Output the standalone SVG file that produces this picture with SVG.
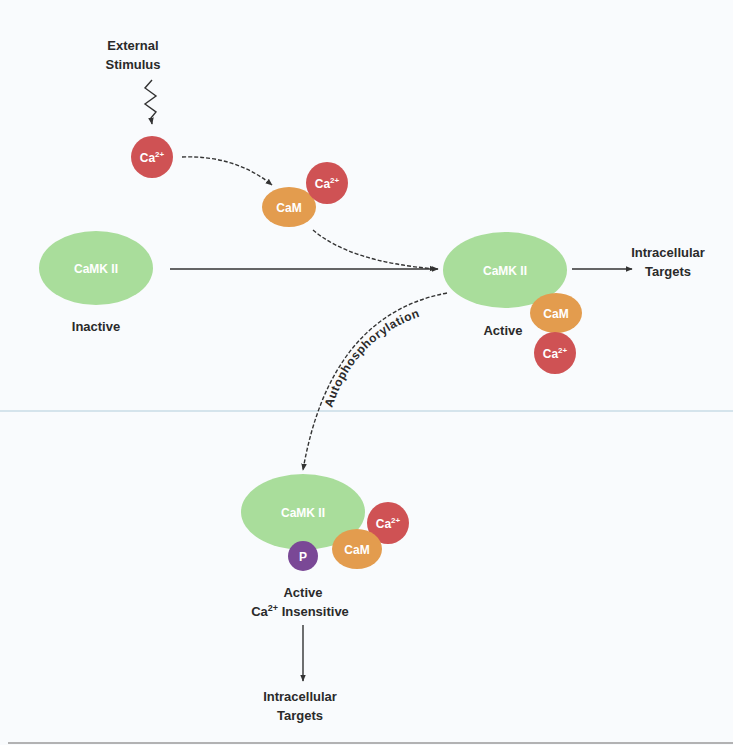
<svg xmlns="http://www.w3.org/2000/svg" width="733" height="745" viewBox="0 0 733 745">
<defs>
<marker id="ah" viewBox="0 0 10 10" refX="9" refY="5" markerWidth="7" markerHeight="7" orient="auto" markerUnits="userSpaceOnUse"><path d="M0,1 L10,5 L0,9 z" fill="#333"/></marker>
<path id="autoPath" d="M331,412 Q356,325 450,309"/>
</defs>
<style>
.lbl{font-family:"Liberation Sans",Arial,sans-serif;font-weight:bold;font-size:13px;fill:#2a2a2a;text-anchor:middle}
.arc{font-family:"Liberation Sans",Arial,sans-serif;font-weight:bold;font-size:12px;fill:#2a2a2a;letter-spacing:0.6px}
.in{font-family:"Liberation Sans",Arial,sans-serif;font-weight:bold;font-size:12px;fill:#ffffff;text-anchor:middle}
.kin{fill:#a9dd9b}
.ca{fill:#cf5254}
.cam{fill:#e39c4e}
.p{fill:#7a4896}
.ln{stroke:#333;stroke-width:1.4;fill:none}
.dash{stroke-dasharray:4 2}
</style>
<rect x="0" y="0" width="733" height="745" fill="#f9fbfd"/>
<line x1="0" y1="411" x2="733" y2="411" stroke="#c9dde6" stroke-width="1.5"/>
<line x1="8" y1="743" x2="733" y2="743" stroke="#9a9a9a" stroke-width="1.5"/>

<g id="connectors">
<path class="ln" d="M152,80 L145,88 L156,96 L145,104 L156,112 L151,118 L152,124" marker-end="url(#ah)"/>
<path class="ln dash" d="M182,157 Q235,155 272,185" marker-end="url(#ah)"/>
<path class="ln dash" d="M313,230 Q350,262 436,269" marker-end="url(#ah)"/>
<line class="ln" x1="170" y1="269" x2="438" y2="269" stroke-width="1.6" marker-end="url(#ah)"/>
<line class="ln" x1="572" y1="269" x2="632" y2="269" marker-end="url(#ah)"/>
<path class="ln dash" d="M447,293 Q330,315 303,470" marker-end="url(#ah)"/>
<line class="ln" x1="303" y1="625" x2="303" y2="681" marker-end="url(#ah)"/>
</g>

<g id="label-autophosphorylation">
<text class="arc"><textPath href="#autoPath" startOffset="4">Autophosphorylation</textPath></text>
</g>

<g id="stimulus">
<text class="lbl" x="133" y="50">External</text>
<text class="lbl" x="133" y="69">Stimulus</text>
</g>

<g id="ca-free">
<circle class="ca" cx="152" cy="157" r="21"/>
<text class="in" x="152" y="162">Ca<tspan font-size="8" dy="-5">2+</tspan></text>
</g>

<g id="cam-ca">
<ellipse class="cam" cx="289" cy="207" rx="27" ry="20"/>
<circle class="ca" cx="327" cy="183" r="21"/>
<text class="in" x="289" y="212">CaM</text>
<text class="in" x="327" y="188">Ca<tspan font-size="8" dy="-5">2+</tspan></text>
</g>

<g id="camk-inactive">
<ellipse class="kin" cx="96" cy="268" rx="57" ry="37"/>
<text class="in" x="96" y="273">CaMK II</text>
<text class="lbl" x="96" y="331">Inactive</text>
</g>

<g id="camk-active">
<ellipse class="kin" cx="505" cy="270" rx="62" ry="38"/>
<text class="in" x="505" y="275">CaMK II</text>
<ellipse class="cam" cx="556" cy="313" rx="26" ry="20"/>
<text class="in" x="556" y="318">CaM</text>
<circle class="ca" cx="555" cy="353" r="21"/>
<text class="in" x="555" y="358">Ca<tspan font-size="8" dy="-5">2+</tspan></text>
<text class="lbl" x="503" y="335">Active</text>
</g>

<g id="targets-right">
<text class="lbl" x="668" y="257">Intracellular</text>
<text class="lbl" x="668" y="276">Targets</text>
</g>

<g id="camk-insensitive">
<ellipse class="kin" cx="303" cy="512" rx="62" ry="38"/>
<text class="in" x="303" y="517">CaMK II</text>
<circle class="ca" cx="388" cy="523" r="21"/>
<text class="in" x="388" y="528">Ca<tspan font-size="8" dy="-5">2+</tspan></text>
<ellipse class="cam" cx="357" cy="549" rx="25" ry="20"/>
<text class="in" x="357" y="554">CaM</text>
<circle class="p" cx="303" cy="556" r="15"/>
<text class="in" x="303" y="561">P</text>
<text class="lbl" x="303" y="597">Active</text>
<text class="lbl" x="300" y="616">Ca<tspan font-size="9" dy="-5">2+</tspan><tspan dy="5"> Insensitive</tspan></text>
</g>

<g id="targets-bottom">
<text class="lbl" x="300" y="701">Intracellular</text>
<text class="lbl" x="300" y="720">Targets</text>
</g>
</svg>
